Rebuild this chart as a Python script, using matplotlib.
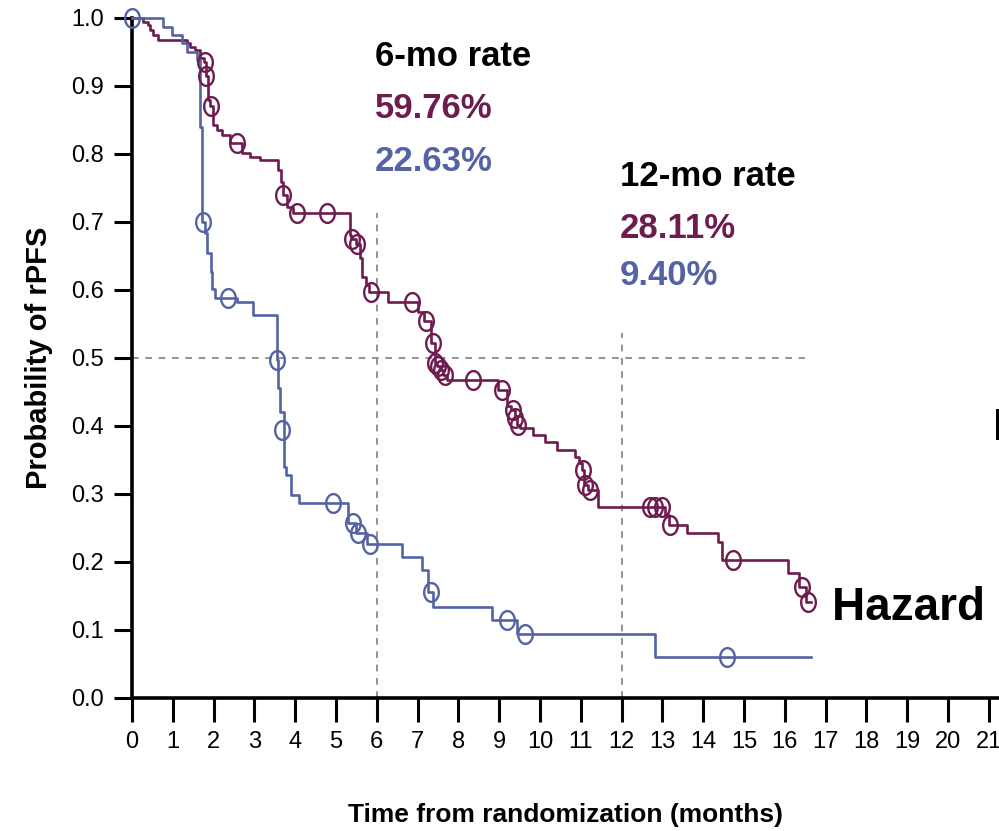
import numpy as np
import matplotlib.pyplot as plt
from matplotlib.path import Path

# --- data (months, survival probability) ---
# purple arm: step times and survival just after each step
purple_t = [0, 0.27, 0.39, 0.44, 0.51, 0.64, 1.35, 1.42, 1.54, 1.67, 1.77, 1.81,
            1.86, 1.90, 1.99, 2.08, 2.21, 2.40, 2.70, 2.89, 3.14, 3.58, 3.65,
            3.70, 3.80, 3.95, 5.34, 5.37, 5.48, 5.59, 5.64, 5.74, 5.82, 6.27,
            7.01, 7.15, 7.32, 7.42, 7.48, 7.55, 7.62, 7.72, 8.97, 9.20, 9.30,
            9.38, 9.44, 9.50, 9.83, 10.12, 10.42, 10.86, 10.95, 11.02, 11.08,
            11.18, 11.42, 13.06, 13.15, 13.60, 14.36, 14.46, 16.08, 16.35,
            16.52, 16.64]
purple_s = [1.0, 0.994, 0.99, 0.982, 0.975, 0.968, 0.963, 0.957, 0.953, 0.941,
            0.935, 0.915, 0.879, 0.871, 0.843, 0.835, 0.828, 0.816, 0.801,
            0.796, 0.791, 0.776, 0.759, 0.74, 0.722, 0.713, 0.681, 0.675,
            0.667, 0.647, 0.619, 0.607, 0.5976, 0.582, 0.568, 0.554, 0.522,
            0.492, 0.488, 0.482, 0.475, 0.468, 0.453, 0.43, 0.424, 0.412,
            0.401, 0.397, 0.387, 0.376, 0.365, 0.355, 0.345, 0.335, 0.313,
            0.306, 0.2811, 0.269, 0.254, 0.243, 0.229, 0.203, 0.184, 0.163,
            0.141, 0.141]
purple_ct = [1.79, 1.82, 1.94, 2.57, 3.70, 4.04, 4.78, 5.39, 5.51, 5.86, 6.86,
             7.21, 7.38, 7.43, 7.50, 7.57, 7.67, 8.36, 9.07, 9.34, 9.39, 9.46,
             11.05, 11.10, 11.23, 12.70, 12.82, 13.00, 13.19, 14.73, 16.42,
             16.57]
purple_cs = [0.935, 0.915, 0.871, 0.816, 0.74, 0.713, 0.713, 0.675, 0.667,
             0.5976, 0.582, 0.554, 0.522, 0.492, 0.488, 0.482, 0.475, 0.468,
             0.453, 0.424, 0.412, 0.401, 0.335, 0.313, 0.306, 0.2811, 0.2811,
             0.2811, 0.254, 0.203, 0.163, 0.141]

# blue arm
blue_t = [0, 0.76, 0.98, 1.23, 1.35, 1.59, 1.67, 1.72, 1.78, 1.84, 1.93, 1.96,
          2.03, 2.57, 2.96, 3.55, 3.57, 3.62, 3.72, 3.77, 3.90, 4.10, 5.30,
          5.50, 5.75, 6.62, 7.11, 7.25, 7.38, 8.82, 9.44, 12.82, 16.64]
blue_s = [1.0, 0.987, 0.975, 0.963, 0.95, 0.938, 0.84, 0.70, 0.684, 0.655,
          0.626, 0.602, 0.588, 0.582, 0.563, 0.497, 0.456, 0.42, 0.34, 0.328,
          0.298, 0.287, 0.257, 0.243, 0.2263, 0.207, 0.188, 0.156, 0.134,
          0.115, 0.094, 0.060, 0.060]
blue_ct = [0.0, 1.74, 2.35, 3.55, 3.68, 4.93, 5.42, 5.54, 5.83, 7.33, 9.19,
           9.63, 14.58]
blue_cs = [1.0, 0.70, 0.588, 0.497, 0.394, 0.287, 0.257, 0.243, 0.2263, 0.156,
           0.115, 0.094, 0.060]

x_ticks = list(range(0, 22))
y_ticks = [0.0, 0.1, 0.2, 0.3, 0.4, 0.5, 0.6, 0.7, 0.8, 0.9, 1.0]

PURPLE = "#6e1b4f"
BLUE = "#5463a4"

plt.rcParams["font.family"] = "Liberation Sans"

# slightly tall ellipse as censor mark
theta = np.linspace(0, 2 * np.pi, 60)
ell = Path(np.column_stack([0.78 * np.cos(theta), np.sin(theta)]), closed=True)

fig = plt.figure(figsize=(9.99, 8.31), dpi=100)
ax = fig.add_axes([132 / 999, 133 / 831, 867 / 999, 680 / 831])

ax.step(purple_t, purple_s, where="post", color=PURPLE, lw=1.9, clip_on=False, zorder=3)
ax.step(blue_t, blue_s, where="post", color=BLUE, lw=1.9, clip_on=False, zorder=3)
ax.plot(blue_ct, blue_cs, ls="none", marker=ell, ms=13.5, mfc="none",
        mec=BLUE, mew=1.7, clip_on=False, zorder=4)
ax.plot(purple_ct, purple_cs, ls="none", marker=ell, ms=13.5, mfc="none",
        mec=PURPLE, mew=1.7, clip_on=False, zorder=4)

# reference lines at median and landmark times
ax.plot([0, 16.5], [0.5, 0.5], ls=(0, (4, 4)), color="#808080", lw=1.2, zorder=2)
ax.plot([6, 6], [0, 0.713], ls=(0, (4, 4)), color="#808080", lw=1.2, zorder=2)
ax.plot([12, 12], [0, 0.537], ls=(0, (4, 4)), color="#808080", lw=1.2, zorder=2)

ax.set_xlim(0, 21.25)
ax.set_ylim(0, 1.0)
ax.set_xticks(x_ticks)
ax.set_yticks(y_ticks)
ax.set_yticklabels([f"{v:.1f}" for v in y_ticks])
for s in ["top", "right"]:
    ax.spines[s].set_visible(False)
for s in ["left", "bottom"]:
    ax.spines[s].set_linewidth(2.6)
ax.tick_params(axis="x", length=17, width=2.2, labelsize=17, pad=7)
ax.tick_params(axis="y", length=13, width=2.2, labelsize=17, pad=7)

ax.set_xlabel("Time from randomization (months)", fontsize=19, fontweight="bold", labelpad=36)
ax.set_ylabel("Probability of rPFS", fontsize=21, fontweight="bold", labelpad=13)

tk = dict(fontsize=25, fontweight="bold", transform=ax.transData, va="baseline")
ax.text(5.95, 0.93, "6-mo rate", color="black", **tk)
ax.text(5.95, 0.853, "59.76%", color=PURPLE, **tk)
ax.text(5.95, 0.775, "22.63%", color=BLUE, **tk)
ax.text(11.95, 0.753, "12-mo rate", color="black", **tk)
ax.text(11.95, 0.676, "28.11%", color=PURPLE, **tk)
ax.text(11.95, 0.607, "9.40%", color=BLUE, **tk)

fig.text(832 / 999, 1 - 620 / 831, "Hazard ratio", fontsize=33, fontweight="bold",
         va="baseline", color="black")
fig.text(993 / 999, 1 - 440 / 831, "Median", fontsize=32, fontweight="bold",
         va="baseline", color="black")

fig.savefig("out.png", dpi=100)
